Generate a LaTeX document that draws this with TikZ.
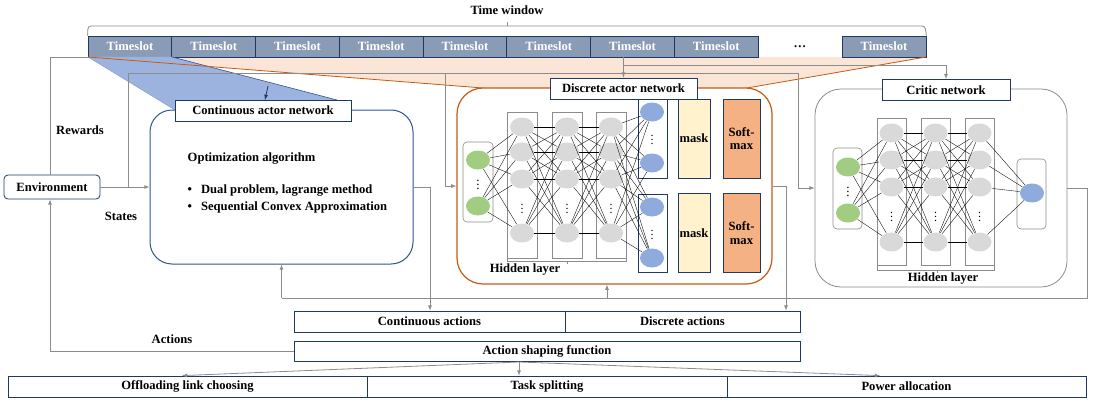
\documentclass[tikz,border=0pt]{standalone}
\usepackage{fontspec}
\setmainfont{Liberation Serif}
\usepackage{tikz}
\usetikzlibrary{arrows,shapes.geometric}
\definecolor{navy}{HTML}{203864}
\definecolor{slotfill}{HTML}{8A9BB6}
\definecolor{projblue}{HTML}{9DB3DF}
\definecolor{darkblue}{HTML}{2F5597}
\definecolor{peach}{HTML}{FBE5D6}
\definecolor{burnt}{HTML}{C55A11}
\definecolor{wiregray}{HTML}{8C8C8C}
\definecolor{greennode}{HTML}{A0CD82}
\definecolor{graynode}{HTML}{D9D9D9}
\definecolor{bluenode}{HTML}{8FAADC}
\definecolor{maskfill}{HTML}{FFF2CC}
\definecolor{softfill}{HTML}{F4B183}
\tikzset{every picture/.style={x=1pt, y=-1pt, line width=0.8pt, font=\fontsize{12.6}{13.5}\selectfont\bfseries}}
\tikzset{slot/.style={draw=navy, fill=slotfill, text=white, minimum width=84pt, minimum height=21pt, inner sep=0pt}}
\tikzset{titlebox/.style={draw=navy, fill=white, minimum height=21pt, inner sep=0pt}}
\tikzset{actbox/.style={draw=navy, minimum height=21pt, inner sep=0pt}}
\tikzset{netbox/.style={fill=white, inner sep=0pt}}
\tikzset{wire/.style={draw=wiregray}}
\tikzset{unit/.style={ellipse, minimum width=24pt, minimum height=19pt, inner sep=0pt}}
\tikzset{layerbox/.style={draw=wiregray, line width=0.6pt}}
\tikzset{inbox/.style={draw=wiregray, line width=0.6pt, rounded corners=4pt, inner sep=0pt}}
\tikzset{synapse/.style={draw=black, line width=0.35pt}}
\tikzset{vdot/.style={inner sep=0pt, font=\fontsize{12}{13}\selectfont}}
\tikzset{bigdot/.style={inner sep=0pt, font=\fontsize{13}{14}\selectfont}}
\tikzset{maskbox/.style={draw=navy, fill=maskfill, minimum width=32pt, minimum height=79pt, inner sep=0pt}}
\tikzset{softbox/.style={draw=navy, fill=softfill, minimum width=37pt, minimum height=79pt, inner sep=0pt, align=center}}

\begin{document}
\begin{tikzpicture}
\useasboundingbox (0,0) rectangle (1097,404);
% time window and its projections
\fill[peach] (88,57) -- (926,57) -- (747,88) -- (483,88) -- cycle;
\foreach \i in {1,...,8} {
\pgfmathsetmacro{\sx}{130 + 83.75*(\i - 1)}
\node[slot] (t\i) at (\sx,46.5) {Timeslot};
}
\node[inner sep=0pt] (more) at (800,47) {\dots};
\node[slot] (t9) at (884,46.5) {Timeslot};
\draw[wire, rounded corners=3pt] (t1.north west) -- (88,26) -- (925,26) -- (t9.north east);
\draw[wire] (507,26) -- (507,22);
\node (tw) at (507,10) {Time window};
\fill[projblue] (88,57) -- (172,57) -- (337,100) -- (175,100) -- (175,110) -- cycle;
\draw[darkblue, line width=0.6pt] (172,57) -- (337,100);
\draw[darkblue!60, line width=0.4pt] (88,57) -- (175,110);
\draw[burnt] (88,57) -- (483,88);
\draw[burnt] (926,57) -- (747,88);

% environment and the three networks
\node[draw=navy, rounded corners=4pt, minimum width=96pt, minimum height=24pt, inner sep=0pt] (env) at (52,187) {Environment};
\node[netbox, draw=darkblue, line width=1pt, rounded corners=22pt, minimum width=263pt, minimum height=154pt] (cont) at (281.5,187) {};
\node[titlebox, minimum width=176pt] (contlabel) at (263,110.5) {Continuous actor network};
\node[anchor=west] (opt) at (184,159) {Optimization algorithm};
\node[anchor=west] (dual) at (184,191) {\textbullet\hspace{9pt}Dual problem, lagrange method};
\node[anchor=west] (sca) at (184,207) {\textbullet\hspace{9pt}Sequential Convex Approximation};
\node[netbox, draw=burnt, line width=1.2pt, rounded corners=26pt, minimum width=315pt, minimum height=196pt] (disc) at (614.5,186) {};
\node[titlebox, minimum width=147pt] (disclabel) at (623.5,88.5) {Discrete actor network};
\node[netbox, draw=wiregray, rounded corners=26pt, minimum width=252pt, minimum height=198pt] (crit) at (941,188) {};
\node[titlebox, minimum width=128pt] (critlabel) at (946,90) {Critic network};

% discrete actor network
\node[inbox, minimum width=30pt, minimum height=80pt] (din) at (478,182) {};
\node[unit, fill=greennode] (da1) at (478,160) {};
\node[unit, fill=greennode] (da2) at (478,206) {};
\node[bigdot] (dadots) at (478,182) {$\vdots$};
\foreach \l/\x in {1/522,2/567,3/611} {
\draw[layerbox] (\x-15,112) rectangle (\x+15,258);
\foreach \n/\y in {1/127,2/152,3/179,4/233}
\node[unit, fill=graynode] (dh\l\n) at (\x,\y) {};
\node[vdot] at (\x,206) {$\vdots$};
}
\draw[navy] (638,99) rectangle (667,178);
\draw[navy] (638,194) rectangle (667,272);
\foreach \n/\y in {1/112,2/163,3/207,4/258}
\node[unit, fill=bluenode] (do\n) at (652,\y) {};
\node[vdot] (dodots1) at (652,137) {$\vdots$};
\node[vdot] (dodots2) at (652,232) {$\vdots$};
\foreach \a in {1,2} \foreach \n in {1,...,4} \draw[synapse] (da\a) -- (dh1\n);
\foreach \l in {1,2} {
\pgfmathsetmacro{\lp}{int(\l + 1)}
\foreach \n in {1,...,4} \foreach \m in {1,...,4} \draw[synapse] (dh\l\n) -- (dh\lp\m);
}
\foreach \n in {1,...,4} \foreach \m in {1,...,4} \draw[synapse] (dh3\n) -- (do\m);
\node[maskbox] (mask1) at (694,138.5) {mask};
\node[maskbox] (mask2) at (694,233) {mask};
\node[softbox] (soft1) at (741.5,138.5) {Soft-\\max};
\node[softbox] (soft2) at (741.5,233) {Soft-\\max};
\draw[layerbox] (507,258) -- (507,261) -- (626,261) -- (626,258);
\draw[layerbox] (567,261) -- (567,264);
\node (dhid) at (525,269) {Hidden layer};

% critic network
\node[inbox, minimum width=29pt, minimum height=81pt] (cin) at (847.5,188.5) {};
\node[unit, fill=greennode] (ca1) at (848,167) {};
\node[unit, fill=greennode] (ca2) at (848,213) {};
\node[bigdot] (cadots) at (848,189) {$\vdots$};
\foreach \l/\x in {1/891.5,2/935.5,3/979.5} {
\draw[layerbox] (\x-14.5,118) rectangle (\x+14.5,265);
\foreach \n/\y in {1/133,2/160,3/187,4/242}
\node[unit, fill=graynode] (ch\l\n) at (\x,\y) {};
\node[vdot] at (\x,214) {$\vdots$};
}
\node[inbox, minimum width=29pt, minimum height=70pt] (cout) at (1031.5,194) {};
\node[unit, fill=bluenode] (co) at (1032,193) {};
\foreach \a in {1,2} \foreach \n in {1,...,4} \draw[synapse] (ca\a) -- (ch1\n);
\foreach \l in {1,2} {
\pgfmathsetmacro{\lp}{int(\l + 1)}
\foreach \n in {1,...,4} \foreach \m in {1,...,4} \draw[synapse] (ch\l\n) -- (ch\lp\m);
}
\foreach \n in {1,...,4} \draw[synapse] (ch3\n) -- (co);
\draw[layerbox] (877,265) -- (877,270) -- (994,270) -- (994,265);
\draw[layerbox] (937,270) -- (937,273);
\node (chid) at (943,278) {Hidden layer};

% actions
\node[actbox, minimum width=271pt] (contact) at (429.5,321.5) {Continuous actions};
\node[actbox, minimum width=235pt] (discact) at (682.5,321.5) {Discrete actions};
\node[actbox, minimum width=506pt, minimum height=20pt] (shaping) at (547,351) {Action shaping function};
\node[actbox, minimum width=359pt] (offload) at (187.5,386.5) {Offloading link choosing};
\node[actbox, minimum width=360pt] (split) at (547,386.5) {Task splitting};
\node[actbox, minimum width=359pt] (power) at (906.5,386.5) {Power allocation};

% connectors
\coordinate (s1) at (128,187);
\coordinate (s2) at (445,73);
\coordinate (s3) at (798,188);
\coordinate (tap) at (623.5,57);
\coordinate (tapc) at (623.5,65);
\coordinate (c1) at (430,187);
\coordinate (d1) at (786,186);
\coordinate (f1) at (1087,188);
\coordinate (f2) at (1087,298);
\coordinate (f3) at (281.5,298);
\coordinate (f4) at (607,298);
\coordinate (sp) at (519,362);
\coordinate (pin) at (268,86);
\coordinate (pinend) at (265,100);
\draw[wire] ([xshift=-2pt]env.north) |- (t1.south west);
\draw[wire,-latex] (env.east) -- (cont.west);
\draw[wire,-latex] (s1) |- (s2) |- (disc.west);
\draw[wire,-latex] (s2) -| (s3) -- (crit.west);
\draw[wire,-latex] (tap) -- (disclabel.north);
\draw[wire,-latex] (tapc) -| (critlabel.north);
\draw[navy,-latex] (pin) -- (pinend);
\draw[wire,-latex] (cont.east) -- (c1) -- (c1 |- contact.north);
\draw[wire,-latex] (disc.east) -- (d1) -- (d1 |- discact.north);
\draw[wire] (crit.east) -- (f1) -- (f2) -- (f3);
\draw[wire,-latex] (f3) -- (cont.south);
\draw[wire,-latex] (f4) -- (f4 |- disc.south);
\draw[wire,-latex] (shaping.west) -| ([xshift=-2pt]env.south);
\draw[wire,-latex] (sp) -- ([xshift=-5.5pt]offload.north);
\draw[wire,-latex] (sp) -- (sp |- split.north);
\draw[wire,-latex] (sp) -- ([xshift=-26.5pt]power.north);
\node (rew) at (80,130) {Rewards};
\node (sta) at (121,216) {States};
\node (act) at (172,339) {Actions};
\end{tikzpicture}
\end{document}
